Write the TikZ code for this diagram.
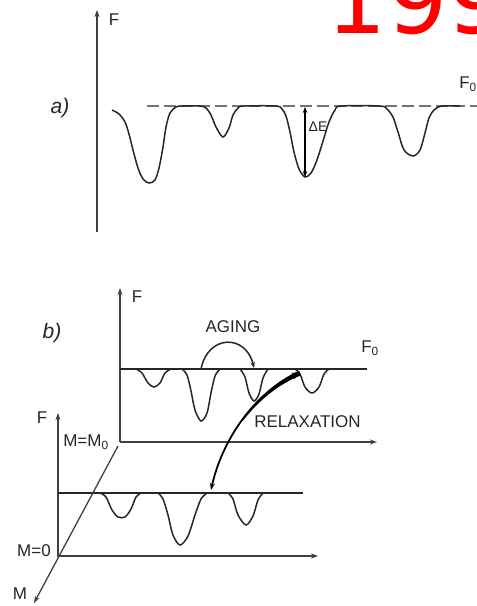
\documentclass[tikz,border=0pt]{standalone}
\usepackage{fontspec}
\setmainfont{Liberation Sans}
\newfontfamily\redfont{DejaVu Sans}
\usetikzlibrary{arrows.meta}
\begin{document}
\begin{tikzpicture}[x=1pt,y=-1pt,
  ax/.style={draw=black!75, line width=1.3pt},
  arr/.style={-{Stealth[length=7pt,width=5pt]}},
  curve/.style={draw=black!85, line width=1.5pt},
  lbl/.style={text=black!85, inner sep=0pt, font=\fontsize{17}{17}\selectfont},
  tag/.style={text=black!85, inner sep=0pt, font=\itshape\fontsize{21}{21}\selectfont},
]
\useasboundingbox (0,0) rectangle (477,606);
\clip (0,0) rectangle (477,606);

% red year
\node[anchor=base west, inner sep=0pt, text=red, font=\redfont\fontsize{95}{95}\selectfont] (year) at (326.5,33) {199};

% ---------- panel a ----------
\coordinate (a0) at (97,232);
\coordinate (a1) at (97,10);
\draw[ax,arr] (a0) -- (a1);
\node[lbl] (aF) at (114,20) {F};
\node[tag] (alab) at (60,108) {a)};
\coordinate (d0) at (147,106);
\coordinate (d1) at (477,106);
\draw[draw=black!55, line width=1.3pt, dash pattern=on 12pt off 5pt] (d0) -- (d1);
\node[lbl] (aF0) at (468,84) {F\textsubscript{0}};
\draw[curve] plot[smooth, tension=0.5] coordinates {
 (112,110) (119,114) (125,122) (129,134) (133,150) (138,168) (143,179) (149,183)
 (155,180) (159,168) (163,147) (166,127) (170,113) (176,107) (182,106) (200,106)
 (206,108) (211,115) (216,127) (223,137) (229,128) (233,115) (238,108) (244,106)
 (276,106) (282,109) (286,116) (290,132) (294,152) (299,169) (305,177) (311,173)
 (317,160) (323,141) (329,122) (335,110) (341,106) (380,106) (387,109) (393,117)
 (398,132) (404,150) (413,156) (420,150) (425,133) (429,118) (434,110) (442,106) (460,106)};
\coordinate (e0) at (305,107);
\coordinate (e1) at (305,177);
\draw[draw=black, line width=1.3pt, {Stealth[length=6pt,width=4.5pt]}-{Stealth[length=6pt,width=4.5pt]}] (e0) -- (e1);
\node[lbl, font=\fontsize{14}{14}\selectfont] (dE) at (318,127) {ΔE};

% ---------- panel b ----------
\node[tag] (blab) at (52,333) {b)};
% upper plane
\coordinate (u0) at (120,442);
\coordinate (u1) at (120,288);
\draw[ax,arr] (u0) -- (u1);
\node[lbl] (bF) at (137,297) {F};
\coordinate (l0) at (120,369);
\coordinate (l1) at (367,369);
\draw[curve] (l0) -- (l1);
\node[lbl] (bF0) at (370,348) {F\textsubscript{0}};
\draw[curve] plot[smooth, tension=0.5] coordinates {(136,369) (142,373) (148,383) (154,387) (160,383) (165,373) (171,369)};
\draw[curve] plot[smooth, tension=0.5] coordinates {(182,369) (187,375) (191,391) (195,410) (201,421) (207,413) (211,393) (215,376) (220,369)};
\draw[curve] plot[smooth, tension=0.5] coordinates {(240,369) (245,377) (249,393) (254,401) (259,394) (263,378) (268,369)};
\draw[curve] plot[smooth, tension=0.5] coordinates {(295,369) (300,374) (305,387) (312,393) (319,387) (324,374) (329,369)};
\coordinate (m0) at (120,442);
\coordinate (m1) at (377,442);
\draw[ax,arr] (m0) -- (m1);
% aging
\coordinate (g0) at (201,369);
\coordinate (g1) at (254,368);
\draw[curve, -{Stealth[length=6pt,width=4.5pt]}] (g0) .. controls (208,334) and (246,334) .. (g1);
\node[lbl] (aging) at (233,327) {AGING};
% lower plane
\coordinate (v0) at (58,557);
\coordinate (v1) at (58,413);
\draw[ax,arr] (v0) -- (v1);
\node[lbl] (bF2) at (42,418) {F};
\node[lbl] (mm0) at (86,442) {M=M\textsubscript{0}};
\coordinate (k0) at (58,493);
\coordinate (k1) at (303,493);
\draw[curve] (k0) -- (k1);
\draw[curve] plot[smooth, tension=0.5] coordinates {(100,493) (106,497) (112,510) (118,517) (125,517) (131,509) (136,497) (141,493)};
\draw[curve] plot[smooth, tension=0.5] coordinates {(158,493) (163,499) (168,515) (173,535) (180,545) (188,536) (195,515) (201,499) (207,493)};
\draw[curve] plot[smooth, tension=0.5] coordinates {(228,493) (233,499) (238,515) (246,525) (253,516) (258,500) (263,493)};
\coordinate (b0) at (58,556);
\coordinate (b1) at (318,556);
\draw[ax,arr] (b0) -- (b1);
\node[lbl] (m0lab) at (34,551) {M=0};
% M axis
\coordinate (n0) at (118,446);
\coordinate (n1) at (34,603);
\draw[ax,arr] (n0) -- (n1);
\node[lbl] (Mlab) at (20,594) {M};
% relaxation
\coordinate (r0) at (300,373);
\coordinate (r1) at (211,490);
\fill[black] (299.0,370.7) .. controls (276.2,381.0) and (257.15,398.26) .. (242.3,419.5)
  -- (243.3,420.3) .. controls (258.85,400.24) and (278.8,384.0) .. (301.0,375.3) -- cycle;
\draw[draw=black, line width=1.8pt, {Stealth[length=8pt,width=7pt]}-{Stealth[length=7pt,width=5pt]}]
  (r0) .. controls (255,392) and (222,440) .. (r1);
\node[lbl] (relax) at (307.5,422) {RELAXATION};
\end{tikzpicture}
\end{document}
